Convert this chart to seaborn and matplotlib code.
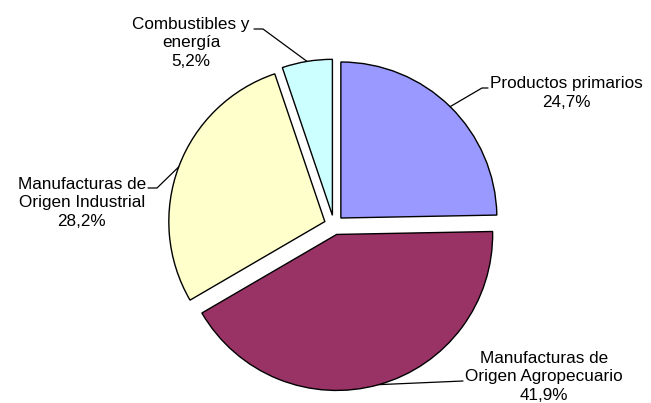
import numpy as np
import matplotlib
matplotlib.use('Agg')
import matplotlib.pyplot as plt
import seaborn as sns

# datos del gráfico
categorias = ['Productos primarios', 'Manufacturas de\nOrigen Agropecuario',
              'Manufacturas de\nOrigen Industrial', 'Combustibles y\nenergía']
valores = [24.7, 41.9, 28.2, 5.2]
colores = ['#9999FF', '#993366', '#FFFFCC', '#CCFFFF']

sns.set_style('white')
plt.rcParams['font.family'] = ['Liberation Sans', 'DejaVu Sans']

fig = plt.figure(figsize=(6.51, 4.03), dpi=100)
ax = fig.add_axes([0, 0, 1, 1])

centro = (334, 178)
radio = 156
sep = 9.8

wedges, _ = ax.pie(valores, colors=colores, startangle=90, counterclock=False,
                   radius=radio, center=centro, explode=[sep] * len(valores),
                   wedgeprops=dict(edgecolor='black', linewidth=1.0),
                   frame=True)
ax.set_xlim(0, 651)
ax.set_ylim(0, 403)
ax.axis('off')

# posiciones de las etiquetas: codo de la línea, final, texto, alineación
codos = [(482, 315), (463, 22), (157, 215), (263, 374)]
finales = [(488, 315), (463, 22), (148, 215), (254, 374)]
textos = [(490, 310), (465, 26), (146, 200), (250, 360)]
alineacion = ['left', 'left', 'right', 'right']

for w, cat, val, codo, fin, txt, ha in zip(wedges, categorias, valores, codos,
                                           finales, textos, alineacion):
    ang = np.deg2rad((w.theta1 + w.theta2) / 2)
    cx, cy = w.center
    px = cx + radio * np.cos(ang)
    py = cy + radio * np.sin(ang)
    ax.plot([px, codo[0], fin[0]], [py, codo[1], fin[1]], color='black', lw=0.9)
    etiqueta = cat + '\n' + f'{val:.1f}'.replace('.', ',') + '%'
    ax.text(txt[0], txt[1], etiqueta, ha=ha, va='center', multialignment='center',
            fontsize=12.3, color='black', linespacing=1.32)

fig.savefig('out.png', dpi=100, facecolor='white')
